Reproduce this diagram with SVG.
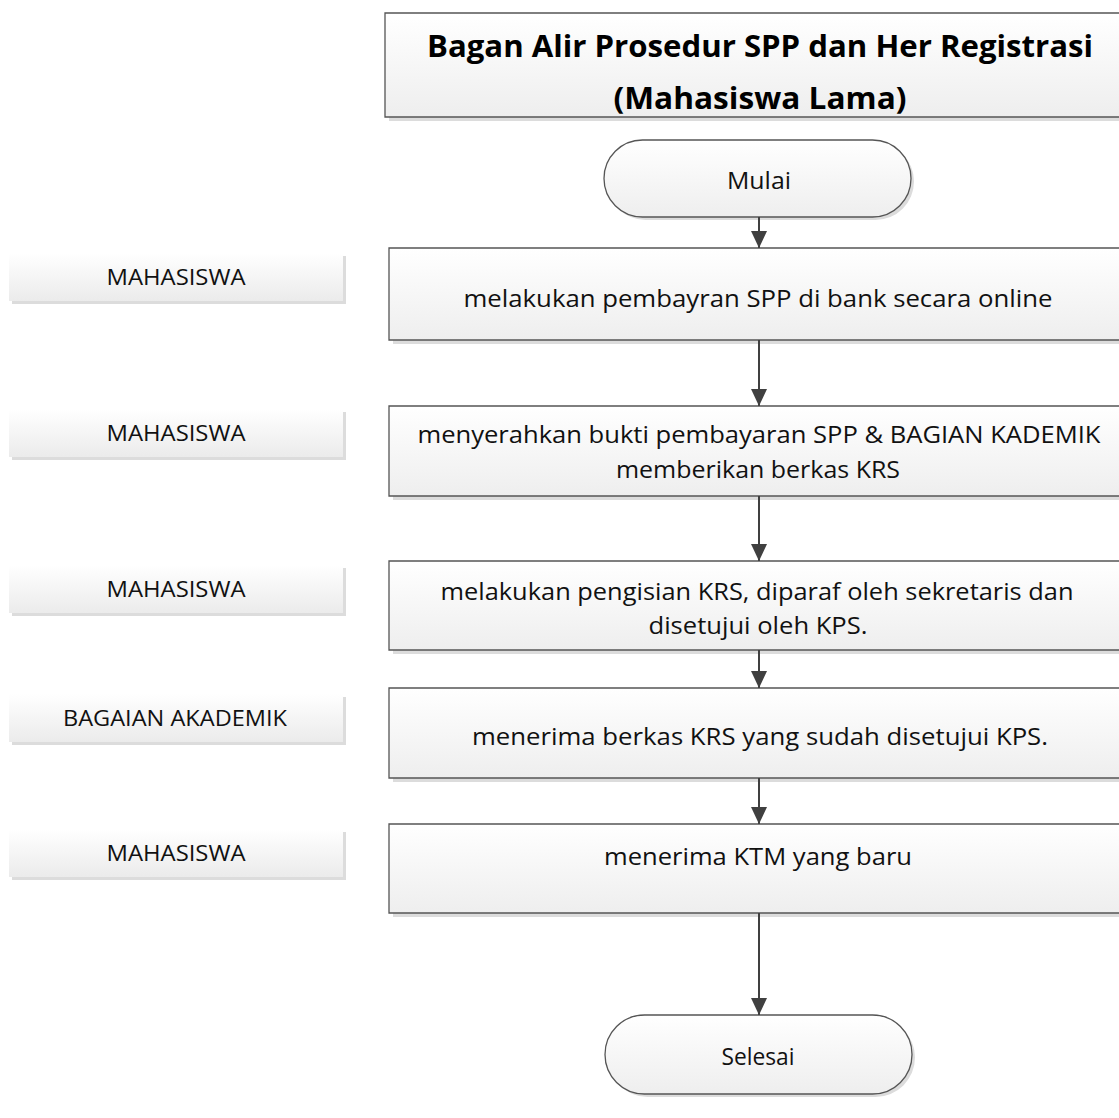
<svg xmlns="http://www.w3.org/2000/svg" width="1119" height="1118" viewBox="0 0 1119 1118">
  <defs>
    <linearGradient id="boxFill" x1="0" y1="0" x2="0" y2="1">
      <stop offset="0" stop-color="#ffffff"/>
      <stop offset="1" stop-color="#eeeeee"/>
    </linearGradient>
    <linearGradient id="laneFill" x1="0" y1="0" x2="0" y2="1">
      <stop offset="0" stop-color="#ffffff"/>
      <stop offset="1" stop-color="#ebebeb"/>
    </linearGradient>
    <marker id="arrow" viewBox="0 0 17 16" refX="17" refY="8" markerWidth="17" markerHeight="16" markerUnits="userSpaceOnUse" orient="auto">
      <path d="M0,0 L17,8 L0,16 Z" fill="#404040"/>
    </marker>
  </defs>
  <style>
    .shadow { fill: #dcdcdc; }
    .fill { fill: url(#boxFill); stroke: none; }
    .edge { fill: none; stroke: #555555; stroke-width: 1.3; }
    .box { fill: url(#boxFill); stroke: #555555; stroke-width: 1.3; }
    .lane { fill: url(#laneFill); stroke: none; }
    .txt { font-family: "Open Sans", "Lato", "Liberation Sans", sans-serif; font-size: 24px; fill: #111111; text-anchor: middle; dominant-baseline: central; }
    .lbl { font-family: "Open Sans", "Lato", "Liberation Sans", sans-serif; font-size: 21px; fill: #111111; text-anchor: middle; dominant-baseline: central; }
    .title { font-family: "Open Sans", "Lato", "Liberation Sans", sans-serif; font-size: 30px; font-weight: bold; fill: #000000; text-anchor: middle; dominant-baseline: central; }
    .conn { stroke: #404040; stroke-width: 2; fill: none; marker-end: url(#arrow); }
  </style>

  <rect width="1119" height="1118" fill="#ffffff"/>

  <!-- title; the banner runs on past the right edge of the sheet -->
  <g id="title">
    <rect class="shadow" x="389" y="17" width="730" height="104"/>
    <rect class="fill" x="385" y="13" width="734" height="104"/>
    <path class="edge" d="M1119,13 H385 V117 H1119"/>
    <text class="title" x="760" y="45" textLength="666" lengthAdjust="spacingAndGlyphs">Bagan Alir Prosedur SPP dan Her Registrasi</text>
    <text class="title" x="760" y="97" textLength="293" lengthAdjust="spacingAndGlyphs">(Mahasiswa Lama)</text>
  </g>

  <!-- start terminator -->
  <g id="start">
    <rect class="shadow" x="607" y="143" width="307" height="77" rx="38.5"/>
    <rect class="box" x="604" y="140" width="307" height="77" rx="38.5"/>
    <text class="txt" x="759" y="179" textLength="64" lengthAdjust="spacingAndGlyphs">Mulai</text>
  </g>

  <!-- actor lanes -->
  <g id="lane1">
    <rect class="shadow" x="12" y="256" width="334" height="48"/>
    <rect class="lane" x="9" y="253" width="334" height="48"/>
    <text class="lbl" x="176" y="277" textLength="139" lengthAdjust="spacingAndGlyphs">MAHASISWA</text>
  </g>
  <g id="lane2">
    <rect class="shadow" x="12" y="412" width="334" height="48"/>
    <rect class="lane" x="9" y="409" width="334" height="48"/>
    <text class="lbl" x="176" y="433" textLength="139" lengthAdjust="spacingAndGlyphs">MAHASISWA</text>
  </g>
  <g id="lane3">
    <rect class="shadow" x="12" y="568" width="334" height="48"/>
    <rect class="lane" x="9" y="565" width="334" height="48"/>
    <text class="lbl" x="176" y="589" textLength="139" lengthAdjust="spacingAndGlyphs">MAHASISWA</text>
  </g>
  <g id="lane4">
    <rect class="shadow" x="12" y="697" width="334" height="48"/>
    <rect class="lane" x="9" y="694" width="334" height="48"/>
    <text class="lbl" x="175" y="718" textLength="224" lengthAdjust="spacingAndGlyphs">BAGAIAN AKADEMIK</text>
  </g>
  <g id="lane5">
    <rect class="shadow" x="12" y="832" width="334" height="48"/>
    <rect class="lane" x="9" y="829" width="334" height="48"/>
    <text class="lbl" x="176" y="853" textLength="139" lengthAdjust="spacingAndGlyphs">MAHASISWA</text>
  </g>

  <!-- process steps (open on the right, where they meet the sheet edge) -->
  <g id="step1">
    <rect class="shadow" x="393" y="252" width="726" height="92"/>
    <rect class="fill" x="389" y="248" width="730" height="92"/>
    <path class="edge" d="M1119,248 H389 V340 H1119"/>
    <text class="txt" x="758" y="297" textLength="589" lengthAdjust="spacingAndGlyphs">melakukan pembayran SPP di bank secara online</text>
  </g>
  <g id="step2">
    <rect class="shadow" x="393" y="410" width="726" height="90"/>
    <rect class="fill" x="389" y="406" width="730" height="90"/>
    <path class="edge" d="M1119,406 H389 V496 H1119"/>
    <text class="txt" x="759" y="433" textLength="683" lengthAdjust="spacingAndGlyphs">menyerahkan bukti pembayaran SPP &amp; BAGIAN KADEMIK</text>
    <text class="txt" x="758" y="468" textLength="284" lengthAdjust="spacingAndGlyphs">memberikan berkas KRS</text>
  </g>
  <g id="step3">
    <rect class="shadow" x="393" y="565" width="726" height="89"/>
    <rect class="fill" x="389" y="561" width="730" height="89"/>
    <path class="edge" d="M1119,561 H389 V650 H1119"/>
    <text class="txt" x="757" y="590" textLength="633" lengthAdjust="spacingAndGlyphs">melakukan pengisian KRS, diparaf oleh sekretaris dan</text>
    <text class="txt" x="758" y="624" textLength="219" lengthAdjust="spacingAndGlyphs">disetujui oleh KPS.</text>
  </g>
  <g id="step4">
    <rect class="shadow" x="393" y="692" width="726" height="90"/>
    <rect class="fill" x="389" y="688" width="730" height="90"/>
    <path class="edge" d="M1119,688 H389 V778 H1119"/>
    <text class="txt" x="760" y="735" textLength="576" lengthAdjust="spacingAndGlyphs">menerima berkas KRS yang sudah disetujui KPS.</text>
  </g>
  <g id="step5">
    <rect class="shadow" x="393" y="828" width="726" height="89"/>
    <rect class="fill" x="389" y="824" width="730" height="89"/>
    <path class="edge" d="M1119,824 H389 V913 H1119"/>
    <text class="txt" x="758" y="855" textLength="308" lengthAdjust="spacingAndGlyphs">menerima KTM yang baru</text>
  </g>

  <!-- end terminator -->
  <g id="end">
    <rect class="shadow" x="608" y="1018" width="307" height="79" rx="39.5"/>
    <rect class="box" x="605" y="1015" width="307" height="79" rx="39.5"/>
    <text class="txt" x="758" y="1055" textLength="73" lengthAdjust="spacingAndGlyphs">Selesai</text>
  </g>

  <!-- connectors -->
  <g id="connectors">
    <line class="conn" x1="759" y1="217" x2="759" y2="248"/>
    <line class="conn" x1="759" y1="340" x2="759" y2="406"/>
    <line class="conn" x1="759" y1="496" x2="759" y2="561"/>
    <line class="conn" x1="759" y1="650" x2="759" y2="688"/>
    <line class="conn" x1="759" y1="778" x2="759" y2="824"/>
    <line class="conn" x1="759" y1="913" x2="759" y2="1015"/>
  </g>
</svg>
